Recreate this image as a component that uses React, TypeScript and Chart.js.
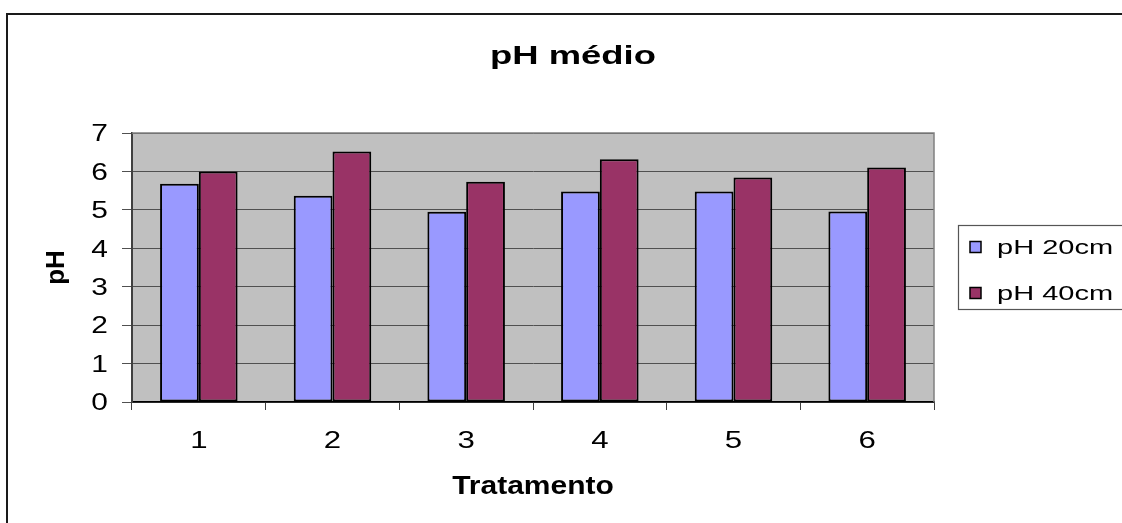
import React, { useEffect, useRef } from "react";
import { Chart, registerables } from "chart.js";

Chart.register(...registerables);

const categories = ["1", "2", "3", "4", "5", "6"];
const ph20 = [5.68, 5.37, 4.95, 5.48, 5.48, 4.96];
const ph40 = [6.0, 6.52, 5.73, 6.32, 5.84, 6.1];
const seriesLabels = ["pH 20cm", "pH 40cm"];
const seriesColors = ["#9999FF", "#993366"];
const chartTitle = "pH médio";
const xTitle = "Tratamento";
const yTitle = "pH";
const yMin = 0;
const yMax = 7;
const yStep = 1;

const FONT = '"Liberation Sans", Arial, sans-serif';

function drawText(
  ctx: CanvasRenderingContext2D,
  text: string,
  x: number,
  y: number,
  font: string,
  align: CanvasTextAlign,
  sx: number
) {
  ctx.save();
  ctx.font = font;
  ctx.fillStyle = "#000";
  ctx.textBaseline = "alphabetic";
  ctx.textAlign = align;
  ctx.translate(x, y);
  ctx.scale(sx, 1);
  ctx.fillText(text, 0, 0);
  ctx.restore();
}

const decorPlugin = {
  id: "decor",
  beforeDraw(chart: any) {
    const { ctx, chartArea } = chart;
    ctx.save();
    ctx.fillStyle = "#fff";
    ctx.fillRect(0, 0, chart.width, chart.height);
    ctx.fillStyle = "#C0C0C0";
    ctx.fillRect(
      chartArea.left,
      chartArea.top,
      chartArea.right - chartArea.left,
      chartArea.bottom - chartArea.top
    );
    ctx.restore();
  },
  afterDraw(chart: any) {
    const { ctx, chartArea } = chart;
    const xs = chart.scales.x;
    const ys = chart.scales.y;
    ctx.save();
    ctx.strokeStyle = "#808080";
    ctx.lineWidth = 1.5;
    ctx.beginPath();
    ctx.moveTo(chartArea.left, chartArea.top);
    ctx.lineTo(chartArea.right, chartArea.top);
    ctx.lineTo(chartArea.right, chartArea.bottom);
    ctx.stroke();
    ctx.fillStyle = "#1a1a1a";
    ctx.fillRect(6, 13, chart.width, 2);
    ctx.fillRect(6, 13, 2, chart.height);
    ctx.restore();

    ys.ticks.forEach((t: any) => {
      const py = ys.getPixelForValue(t.value);
      drawText(ctx, String(t.label), 108, py + 8.3, `23px ${FONT}`, "right", 1.3);
    });
    xs.ticks.forEach((t: any, i: number) => {
      const px = xs.getPixelForTick(i);
      drawText(ctx, String(xs.getLabelForValue(t.value)), px, 448, `24px ${FONT}`, "center", 1.3);
    });

    drawText(ctx, chartTitle, 573, 64, `bold 26px ${FONT}`, "center", 1.4);
    drawText(ctx, xTitle, (chartArea.left + chartArea.right) / 2, 494, `bold 25px ${FONT}`, "center", 1.2);
    ctx.save();
    ctx.translate(64, (chartArea.top + chartArea.bottom) / 2);
    ctx.rotate(-Math.PI / 2);
    ctx.font = `bold 26px ${FONT}`;
    ctx.fillStyle = "#000";
    ctx.textAlign = "center";
    ctx.textBaseline = "alphabetic";
    ctx.fillText(yTitle, 0, 0);
    ctx.restore();

    ctx.save();
    ctx.fillStyle = "#fff";
    ctx.fillRect(958, 225, 200, 84);
    ctx.strokeStyle = "#555";
    ctx.lineWidth = 1.2;
    ctx.strokeRect(958.5, 225.5, 200, 84);
    ctx.restore();
    const itemY = [247, 293];
    chart.data.datasets.forEach((ds: any, i: number) => {
      const cy = itemY[i];
      ctx.save();
      ctx.fillStyle = ds.backgroundColor;
      ctx.fillRect(970, cy - 5.5, 11, 11);
      ctx.strokeStyle = "#000";
      ctx.lineWidth = 1.5;
      ctx.strokeRect(970, cy - 5.5, 11, 11);
      ctx.restore();
      drawText(ctx, ds.label, 997, cy + 7, `20px ${FONT}`, "left", 1.45);
    });
  },
};

export default function App() {
  const ref = useRef<HTMLCanvasElement | null>(null);
  useEffect(() => {
    if (!ref.current) return;
    const chart = new Chart(ref.current, {
      type: "bar",
      data: {
        labels: categories,
        datasets: [
          {
            label: seriesLabels[0],
            data: ph20,
            backgroundColor: seriesColors[0],
            borderColor: "#000",
            borderWidth: 2,
            borderSkipped: false,
            categoryPercentage: 0.58,
            barPercentage: 1,
          },
          {
            label: seriesLabels[1],
            data: ph40,
            backgroundColor: seriesColors[1],
            borderColor: "#000",
            borderWidth: 2,
            borderSkipped: false,
            categoryPercentage: 0.58,
            barPercentage: 1,
          },
        ],
      },
      options: {
        responsive: false,
        animation: false,
        layout: { padding: { top: 133, right: 188, left: 0, bottom: 0 } },
        plugins: {
          legend: { display: false },
          title: { display: false },
          tooltip: { enabled: false },
        },
        scales: {
          x: {
            grid: {
              offset: true,
              drawOnChartArea: false,
              drawTicks: true,
              tickLength: 8,
              color: "#404040",
              lineWidth: 1,
            },
            border: { display: true, color: "#000", width: 1.5 },
            ticks: { display: false },
            afterFit: (scale: any) => {
              scale.height = 121;
            },
          },
          y: {
            min: yMin,
            max: yMax,
            ticks: { display: false, stepSize: yStep },
            grid: {
              color: "#505050",
              lineWidth: 1,
              drawTicks: true,
              tickLength: 10,
            },
            border: { display: true, color: "#404040", width: 2 },
            afterFit: (scale: any) => {
              scale.width = 132;
            },
          },
        },
      },
      plugins: [decorPlugin],
    });
    return () => chart.destroy();
  }, []);
  return (
    <div style={{ position: "absolute", left: 0, top: 0, width: 1122, height: 523 }}>
      <canvas ref={ref} width={1122} height={523} style={{ display: "block" }} />
    </div>
  );
}
